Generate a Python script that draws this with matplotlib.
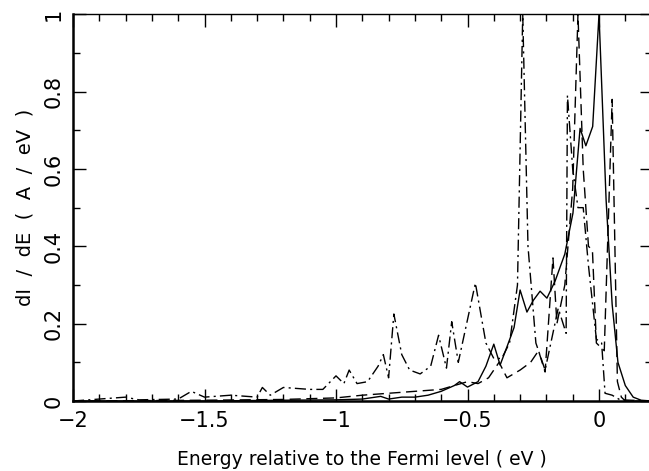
import matplotlib.pyplot as plt
from matplotlib.ticker import MultipleLocator, FixedLocator

# solid curve
e_solid = [-2.0, -1.5, -1.2, -1.0, -0.9, -0.83, -0.8, -0.75, -0.7, -0.65, -0.6,
           -0.55, -0.53, -0.5, -0.46, -0.43, -0.4, -0.376, -0.35, -0.323, -0.30,
           -0.274, -0.25, -0.224, -0.198, -0.167, -0.13, -0.099, -0.072, -0.05,
           -0.024, 0.0, 0.027, 0.05, 0.072, 0.1, 0.13, 0.16, 0.2]
g_solid = [0.0, 0.0, 0.002, 0.003, 0.005, 0.012, 0.005, 0.01, 0.01, 0.015, 0.025,
           0.04, 0.05, 0.036, 0.05, 0.09, 0.147, 0.093, 0.14, 0.19, 0.287,
           0.23, 0.26, 0.284, 0.266, 0.31, 0.38, 0.486, 0.705, 0.66,
           0.71, 1.0, 0.52, 0.25, 0.10, 0.04, 0.01, 0.002, 0.0]

# dashed curve
e_dash = [-2.0, -1.5, -1.2, -1.0, -0.9, -0.8, -0.7, -0.6, -0.55, -0.5, -0.46,
          -0.42, -0.38, -0.35, -0.3, -0.26, -0.23, -0.205, -0.175, -0.16, -0.13,
          -0.1, -0.08, -0.06, -0.04, -0.025, -0.01, 0.02, 0.05, 0.07, 0.085,
          0.1, 0.2]
g_dash = [0.0, 0.002, 0.004, 0.008, 0.015, 0.02, 0.025, 0.03, 0.04, 0.05, 0.045,
          0.06, 0.1, 0.06, 0.08, 0.1, 0.13, 0.075, 0.37, 0.2, 0.3,
          0.55, 1.0, 0.6, 0.4, 0.39, 0.15, 0.13, 0.78, 0.05, 0.01,
          0.0, 0.0]

# dash-dot curve
e_dd = [-2.0, -1.9, -1.8, -1.75, -1.6, -1.55, -1.5, -1.4, -1.3, -1.28, -1.25,
        -1.2, -1.1, -1.05, -1.0, -0.97, -0.95, -0.92, -0.88, -0.84, -0.82, -0.8,
        -0.78, -0.75, -0.72, -0.68, -0.64, -0.61, -0.58, -0.56, -0.535, -0.47,
        -0.43, -0.4, -0.37, -0.34, -0.31, -0.29, -0.27, -0.24, -0.205, -0.155,
        -0.125, -0.12, -0.1, -0.08, -0.06, -0.04, -0.01, 0.01, 0.023, 0.05,
        0.08, 0.2]
g_dd = [0.0, 0.005, 0.01, 0.003, 0.005, 0.025, 0.01, 0.015, 0.01, 0.035, 0.015,
        0.035, 0.03, 0.03, 0.065, 0.045, 0.08, 0.045, 0.05, 0.09, 0.12, 0.06,
        0.225, 0.12, 0.08, 0.07, 0.09, 0.17, 0.085, 0.205, 0.1, 0.305,
        0.15, 0.11, 0.11, 0.15, 0.3, 1.0, 0.4, 0.15, 0.08, 0.24,
        0.175, 0.79, 0.6, 0.5, 0.5, 0.35, 0.16, 0.15, 0.02, 0.015,
        0.003, 0.0]

x_ticks = [-2, -1.5, -1, -0.5, 0]
x_labels = ["\u22122", "\u22121.5", "\u22121", "\u22120.5", "0"]
y_ticks = [0, 0.2, 0.4, 0.6, 0.8, 1.0]
y_labels = ["0", "0.2", "0.4", "0.6", "0.8", "1"]

fig = plt.figure(figsize=(6.49, 4.71), dpi=100)
ax = fig.add_axes([73 / 649, 1 - 401 / 471, (651.6 - 73) / 649, (401 - 14.3) / 471])

ax.plot(e_solid, g_solid, color="black", lw=1.0, ls="-")
ax.plot(e_dash, g_dash, color="black", lw=1.0, ls=(0, (8, 4)))
ax.plot(e_dd, g_dd, color="black", lw=1.0, ls=(0, (8, 3, 1.5, 3)))

ax.set_xlim(-2, 0.2)
ax.set_ylim(0, 1)

ax.xaxis.set_major_locator(FixedLocator(x_ticks))
ax.xaxis.set_minor_locator(MultipleLocator(0.1))
ax.yaxis.set_major_locator(FixedLocator(y_ticks))
ax.yaxis.set_minor_locator(MultipleLocator(0.1))
ax.set_xticklabels(x_labels)
ax.set_yticklabels(y_labels, rotation=90, va="center")

ax.tick_params(which="both", direction="in", top=True, right=True, width=1.0,
               labelsize=15, colors="black")
ax.tick_params(which="major", length=9, pad=7)
ax.tick_params(which="minor", length=5)

for side in ["left", "bottom"]:
    ax.spines[side].set_linewidth(1.8)
for side in ["top", "right"]:
    ax.spines[side].set_linewidth(1.0)

ax.set_xlabel("Energy relative to the Fermi level ( eV )", fontsize=13.5, labelpad=14)
ax.set_ylabel("dI  /  dE  (  A  /  eV  )", fontsize=14, labelpad=6)

fig.savefig("out.png", dpi=100)
